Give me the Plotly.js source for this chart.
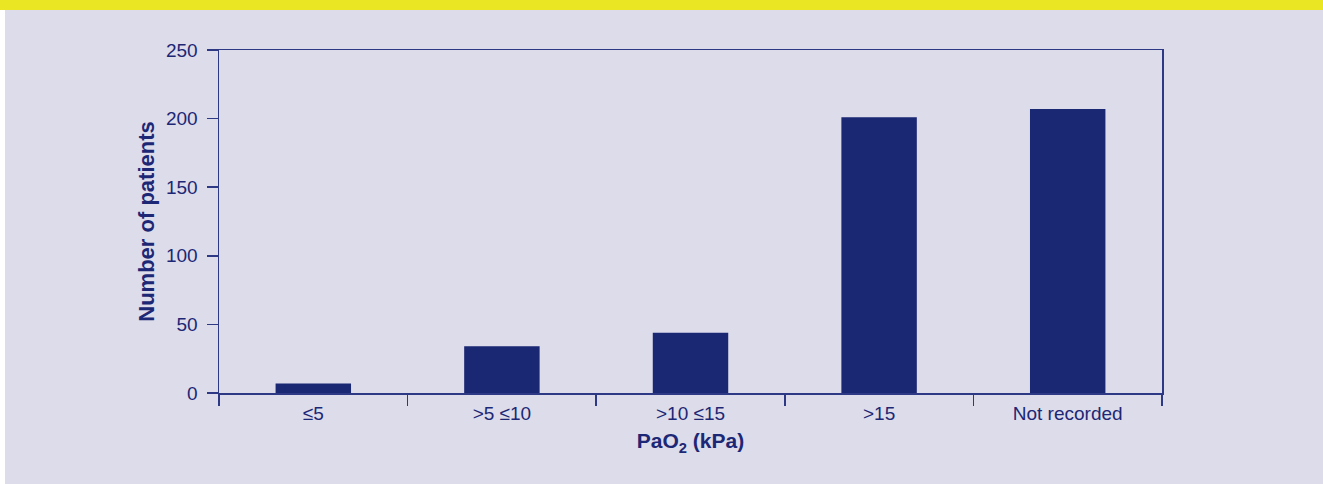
<!DOCTYPE html>
<html>
<head>
<meta charset="utf-8">
<script src="https://cdn.plot.ly/plotly-3.0.1.min.js"></script>
<style>
  html, body { margin: 0; padding: 0; background: #dcdcea; }
  #wrap { position: relative; width: 1323px; height: 484px; overflow: hidden; }
  #chart { position: absolute; left: 0; top: 0; width: 1323px; height: 484px; }
  #band { position: absolute; left: 0; top: 0; width: 1323px; height: 10px; background: #ebe623; pointer-events: none; }
  #strip { position: absolute; left: 0; top: 10px; width: 5px; height: 474px; background: #ffffff; pointer-events: none; }
</style>
</head>
<body>
<div id="wrap">
  <div id="chart"></div>
  <div id="band"></div>
  <div id="strip"></div>
</div>
<script>
const categories = ["≤5", ">5 ≤10", ">10 ≤15", ">15", "Not recorded"];
const patients = [7, 34, 44, 201, 207];
const yTickValues = [0, 50, 100, 150, 200, 250];

const ink = "#1c2775";
const axisLine = "#2e3985";
const fontFamily = "'Liberation Sans', Arial, sans-serif";

const trace = {
  type: "bar",
  x: categories,
  y: patients,
  marker: { color: "#1a2773", line: { width: 0 } },
  hoverinfo: "x+y"
};

const layout = {
  width: 1323,
  height: 484,
  margin: { l: 219, r: 161, t: 50, b: 91, pad: 0 },
  paper_bgcolor: "#dcdcea",
  plot_bgcolor: "#dcdcea",
  bargap: 0.6,
  showlegend: false,
  font: { family: fontFamily, color: ink, size: 19 },
  xaxis: {
    type: "category",
    range: [-0.5, 4.5],
    showline: true,
    linecolor: axisLine,
    linewidth: 1.5,
    mirror: true,
    ticks: "outside",
    tickson: "boundaries",
    ticklen: 11,
    tickwidth: 1.5,
    tickcolor: axisLine,
    showgrid: false,
    zeroline: false,
    tickfont: { family: fontFamily, size: 19, color: ink },
    ticklabelstandoff: 3,
    title: {
      text: "<b>PaO<sub>2</sub> (kPa)</b>",
      font: { family: fontFamily, size: 21, color: ink },
      standoff: 10
    }
  },
  yaxis: {
    range: [0, 250],
    tickvals: yTickValues,
    showline: true,
    linecolor: axisLine,
    linewidth: 1.5,
    mirror: true,
    ticks: "outside",
    ticklen: 11,
    tickwidth: 1.5,
    tickcolor: axisLine,
    showgrid: false,
    zeroline: false,
    tickfont: { family: fontFamily, size: 19, color: ink },
    ticklabelstandoff: 5,
    title: {
      text: "<b>Number of patients</b>",
      font: { family: fontFamily, size: 22, color: ink },
      standoff: 5
    }
  }
};

Plotly.newPlot("chart", [trace], layout, { displayModeBar: false, staticPlot: true });
</script>
</body>
</html>
